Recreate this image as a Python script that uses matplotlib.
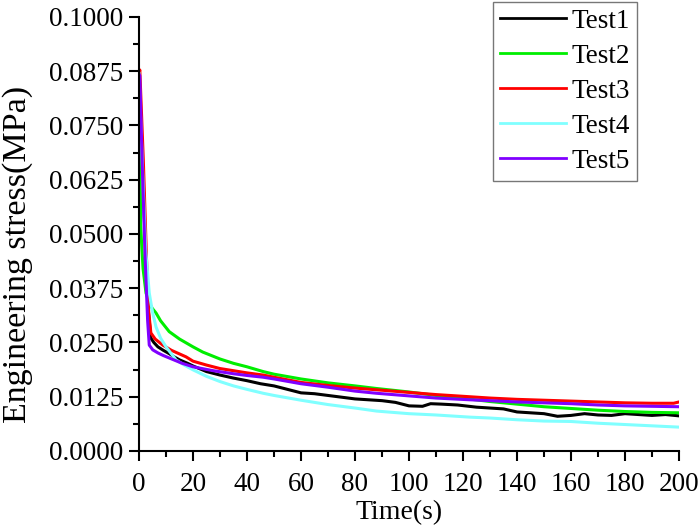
import matplotlib
matplotlib.use("Agg")
import matplotlib.pyplot as plt
from matplotlib.ticker import MultipleLocator, FormatStrFormatter

plt.rcParams['font.family'] = ['Liberation Serif', 'DejaVu Serif']

labels = ["Test1", "Test2", "Test3", "Test4", "Test5"]
colors = ["#000000", "#00EE00", "#FF0000", "#80FFFF", "#8000FF"]

t1 = [0, 0.5, 1.5, 2.5, 3.5, 4.4, 5.5, 7, 9, 11, 13, 15, 18, 20, 25, 30, 35, 40, 45, 50,
      55, 60, 65, 70, 75, 80, 85, 90, 95, 100, 105, 108, 112, 118, 125, 130, 135, 140,
      145, 150, 155, 160, 165, 170, 175, 180, 185, 190, 195, 200]
s1 = [0.0875, 0.079, 0.062, 0.045, 0.032, 0.0260, 0.0250, 0.0240, 0.0232, 0.0225, 0.0217,
      0.0210, 0.0202, 0.0196, 0.0183, 0.0175, 0.0168, 0.0162, 0.0155, 0.0150, 0.0142,
      0.0134, 0.0132, 0.0128, 0.0124, 0.0120, 0.0118, 0.0116, 0.0112, 0.0104, 0.0103,
      0.0109, 0.0108, 0.0106, 0.0101, 0.0099, 0.0097, 0.0090, 0.0088, 0.0086, 0.0080,
      0.0082, 0.0086, 0.0083, 0.0082, 0.0086, 0.0084, 0.0082, 0.0084, 0.0081]

t2 = [0, 0.3, 0.6, 1.5, 2.6, 4, 5, 6.3, 8, 11.2, 15, 20, 23.6, 30, 35, 40, 46, 50, 60,
      70, 80, 88, 100, 110, 122, 130, 140, 150, 160, 170, 180, 190, 200]
s2 = [0.0875, 0.077, 0.052, 0.042, 0.0364, 0.0338, 0.0328, 0.0318, 0.0300, 0.0275,
      0.0258, 0.0240, 0.0228, 0.0212, 0.0202, 0.0194, 0.0183, 0.0177, 0.0166, 0.0157,
      0.0150, 0.0144, 0.0136, 0.0128, 0.0120, 0.0114, 0.0108, 0.0102, 0.0098, 0.0094,
      0.0091, 0.0089, 0.0088]

t3 = [0, 0.3, 1.6, 2.8, 3.6, 4.4, 6, 8.8, 12, 17.4, 20, 25, 30, 40, 46, 50, 60, 70, 80,
      86, 100, 110, 122.6, 130, 140, 150, 160, 170, 180, 190, 198, 200]
s3 = [0.0870, 0.0878, 0.067, 0.044, 0.032, 0.0272, 0.0258, 0.0244, 0.0232, 0.0217,
      0.0207, 0.0198, 0.0190, 0.0180, 0.0175, 0.0170, 0.0158, 0.0151, 0.0145, 0.0142,
      0.0135, 0.0130, 0.0125, 0.0122, 0.0119, 0.0117, 0.0115, 0.0113, 0.0111, 0.0110,
      0.0110, 0.0113]

t4 = [0, 0.4, 1.5, 2.5, 3.8, 5, 6.3, 8, 10, 13.7, 17, 20, 25, 30, 35, 40, 46, 50, 60, 70,
      80, 88, 100, 110, 122.6, 130, 140, 150, 160, 170, 180, 190, 200]
s4 = [0.0870, 0.080, 0.062, 0.046, 0.0364, 0.032, 0.0286, 0.0260, 0.0240, 0.0210,
      0.0197, 0.0187, 0.0172, 0.0160, 0.0150, 0.0142, 0.0133, 0.0128, 0.0117, 0.0107,
      0.0099, 0.0092, 0.0086, 0.0083, 0.0078, 0.0076, 0.0072, 0.0069, 0.0068, 0.0064,
      0.0061, 0.0058, 0.0055]

t5 = [0, 0.3, 1.2, 2.3, 3.2, 3.8, 5.1, 7, 9, 12.5, 16, 20, 27.5, 35, 40, 46, 50, 60, 70,
      80, 88, 100, 110, 122.6, 130, 140, 150, 160, 170, 180, 190, 200]
s5 = [0.0868, 0.0865, 0.066, 0.044, 0.030, 0.0244, 0.0233, 0.0226, 0.0220, 0.0211,
      0.0202, 0.0194, 0.0185, 0.0178, 0.0174, 0.0170, 0.0166, 0.0155, 0.0147, 0.0138,
      0.0133, 0.0127, 0.0122, 0.0118, 0.0116, 0.0113, 0.0111, 0.0109, 0.0106, 0.0104,
      0.0103, 0.0102]

series = [(t1, s1), (t2, s2), (t3, s3), (t4, s4), (t5, s5)]

fig = plt.figure(figsize=(7.0, 5.28), dpi=100)
ax = fig.add_axes([139/700, 1 - 451/528, (679 - 139)/700, (451 - 17)/528])

lines = []
for (t, s), lab, c in zip(series, labels, colors):
    ln, = ax.plot(t, s, color=c, lw=2.2, label=lab)
    lines.append(ln)

ax.set_xlim(0, 200)
ax.set_ylim(0, 0.1)
ax.xaxis.set_major_locator(MultipleLocator(20))
ax.xaxis.set_minor_locator(MultipleLocator(10))
ax.yaxis.set_major_locator(MultipleLocator(0.0125))
ax.yaxis.set_minor_locator(MultipleLocator(0.00625))
ax.yaxis.set_major_formatter(FormatStrFormatter('%.4f'))

for side in ['top', 'right']:
    ax.spines[side].set_visible(False)
for side in ['left', 'bottom']:
    ax.spines[side].set_linewidth(1.5)

ax.tick_params(which='major', direction='out', length=7, width=1.5, labelsize=19.5)
ax.tick_params(axis='x', which='major', pad=8)
ax.tick_params(axis='y', which='major', pad=4)
ax.tick_params(which='minor', direction='out', length=4, width=1.5)

ax.set_xlabel("Time(s)", fontsize=20)
ax.set_ylabel("Engineering stress(MPa)", fontsize=24.5)
ax.xaxis.set_label_coords(0.4824, -0.114)
ax.yaxis.set_label_coords(-0.196, 0.453)

leg = fig.legend(handles=lines, loc='upper right',
                 bbox_to_anchor=(637/700, 1 - 2/528), bbox_transform=fig.transFigure,
                 fontsize=19.5, frameon=True, fancybox=False, shadow=False,
                 borderpad=0.25, labelspacing=0.37, handlelength=2.45,
                 handletextpad=0.2, borderaxespad=0)
leg.get_frame().set_edgecolor('#555555')
leg.get_frame().set_linewidth(1.0)
for l in leg.get_lines():
    l.set_linewidth(2.0)

fig.savefig("out.png", dpi=100)
